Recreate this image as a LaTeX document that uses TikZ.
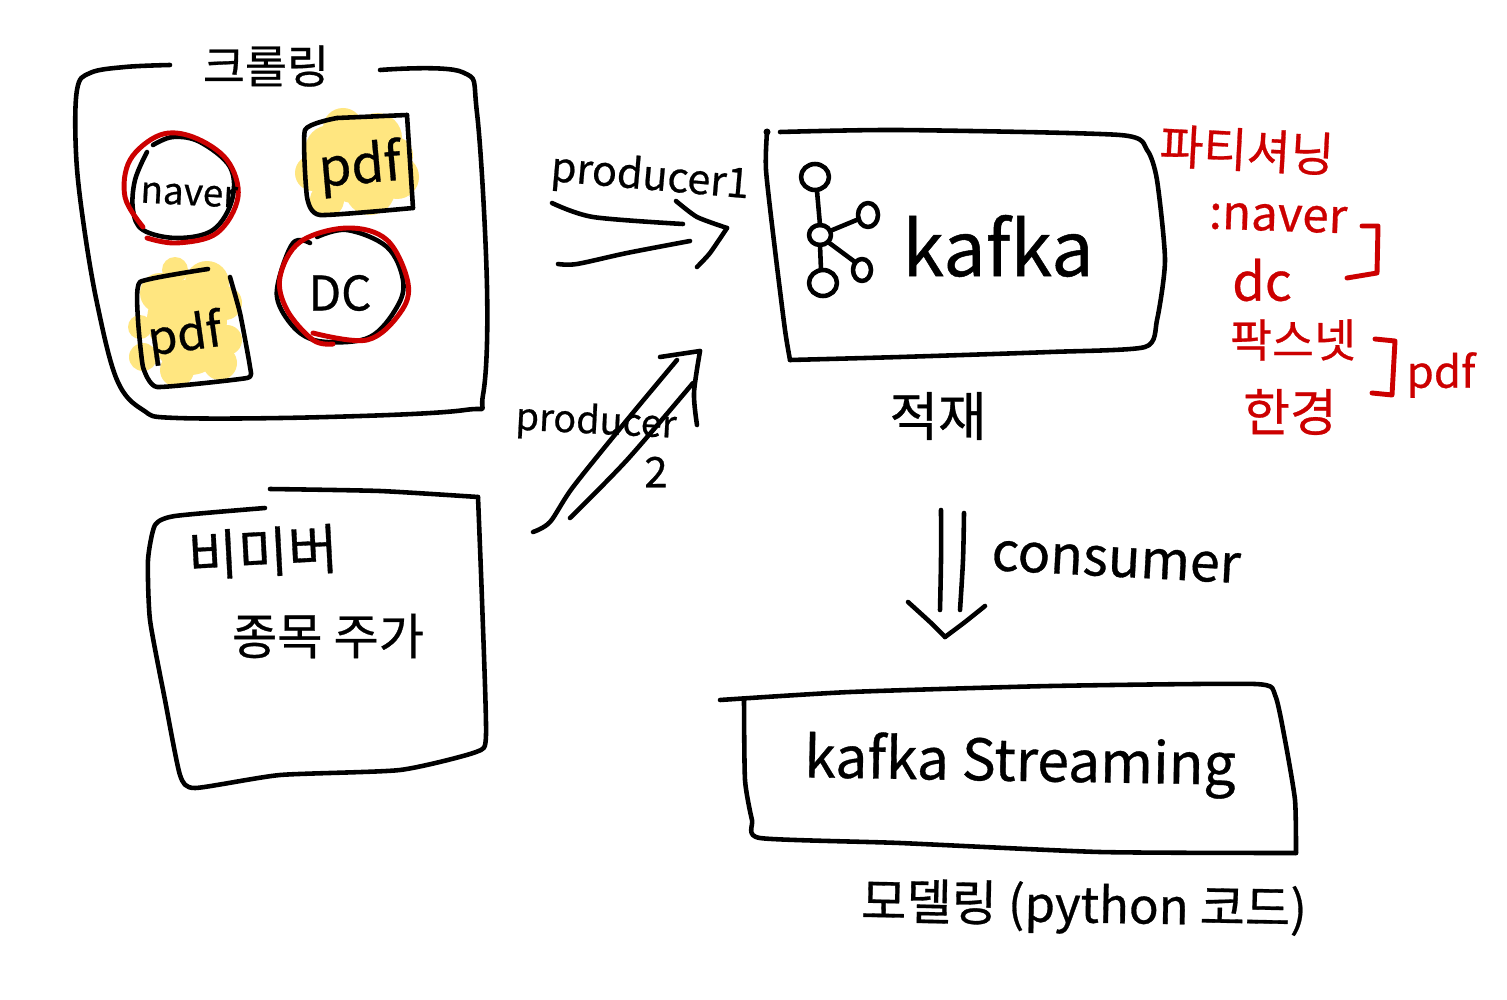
\documentclass[tikz,border=0pt]{standalone}
\usepackage{fontspec}
\setmainfont{Noto Sans CJK KR}[FakeBold=0.6]
\definecolor{inkred}{HTML}{CC0000}
\definecolor{marker}{HTML}{FFE680}
\tikzset{
  ink/.style={line width=2.6pt,line cap=round,line join=round,black},
  redink/.style={line width=2.8pt,line cap=round,line join=round,inkred},
  hw/.style={inner sep=0pt,anchor=center,black},
  hwred/.style={inner sep=0pt,anchor=center,inkred},
  blob/.style={fill=marker,draw=none},
}
\newcommand{\fs}[1]{\fontsize{#1pt}{#1pt}\selectfont}
\begin{document}
\begin{tikzpicture}[x=0.02cm,y=-0.02cm]
\useasboundingbox (0,0) rectangle (1507,1000);
\fill[white] (0,0) rectangle (1507,1000);
% yellow highlights
\foreach \a/\b/\r in {343/128/20,330/150/25,377/138/25,397/177/22,313/173/18,327/200/17,370/190/25,355/165/38,395/155/18}
  \fill[blob] (\a,\b) circle[radius=\r*0.02cm];
\foreach \a/\b/\r in {175/270/13,160/293/20,207/283/22,225/303/17,140/327/12,143/357/14,220/363/17,177/370/17,187/320/40,227/340/15,190/340/35}
  \fill[blob] (\a,\b) circle[radius=\r*0.02cm];
% crawling box
\draw[ink] plot[smooth,tension=.6] coordinates {(170,65)(125,67)(90,73)(77,90)(76,153)(83,220)(97,303)(117,380)(143,410)(177,418)(327,417)(465,410)(483,395)(487,287)(477,113)(462,72)(380,70)};
% naver circle
\draw[ink] plot[smooth,tension=.6] coordinates {(147,152)(135,180)(133,210)(143,230)(177,238)(213,230)(232,200)(230,167)(200,142)(173,137)(153,145)};
\draw[redink] plot[smooth,tension=.6] coordinates {(147,238)(177,243)(217,233)(238,197)(227,160)(193,137)(160,135)(130,160)(125,197)(143,227)};
% top pdf box
\draw[ink] plot[smooth,tension=.2] coordinates {(337,118)(407,115)};
\draw[ink] plot[smooth,tension=.2] coordinates {(407,115)(413,208)};
\draw[ink] plot[smooth,tension=.3] coordinates {(413,208)(320,215)(307,197)(305,130)(337,118)};
% bottom pdf box
\draw[ink] plot[smooth,tension=.25] coordinates {(208,269)(140,282)(138,320)(143,367)(157,387)(247,378)(250,367)(240,313)(230,277)};
% DC circle
\draw[ink] plot[smooth,tension=.6] coordinates {(310,243)(293,243)(278,283)(280,307)(300,333)(327,342)(370,337)(397,307)(403,280)(387,247)(347,230)(317,237)};
\draw[redink] plot[smooth,tension=.6] coordinates {(333,344)(313,340)(287,310)(280,277)(300,242)(347,228)(387,240)(408,283)(400,313)(367,340)(313,333)};
% labels, crawling
\node[hw] (crawl) at (266,66) {\fs{26}크롤링};
\node[hw,rotate=-3] (naverA) at (189,195) {\fs{21}naver};
\node[hw,rotate=5] (pdfA) at (360,168) {\fs{30}pdf};
\node[hw,rotate=8] (pdfB) at (185,337) {\fs{27}pdf};
\node[hw] (dcA) at (340,293) {\fs{27}DC};
% producer 1 arrow
\node[hw,rotate=-5] (prodA) at (650,178) {\fs{23.5}producer1};
\draw[ink] plot[smooth] coordinates {(552,203)(593,217)(683,224)};
\draw[ink] plot[smooth] coordinates {(558,264)(577,264)(627,253)(690,241)};
\draw[ink] plot[smooth,tension=.4] coordinates {(676,201)(697,217)(727,228)};
\draw[ink] plot[smooth,tension=.4] coordinates {(727,228)(710,253)(697,267)};
% producer 2 arrow
\draw[ink] plot[smooth] coordinates {(533,532)(550,522)(573,487)(627,420)(677,360)};
\draw[ink] plot[smooth] coordinates {(570,518)(627,460)(693,383)};
\draw[ink] (660,357) -- (700,351);
\draw[ink] plot[smooth] coordinates {(700,351)(694,393)(697,425)};
\node[hw,rotate=-3] (prodB) at (596,423) {\fs{21.5}producer};
\node[hw] (two) at (656,472) {\fs{24}2};
% kafka box
\fill[black] (767,132) circle[radius=0.07cm];
\draw[ink] plot[smooth,tension=.4] coordinates {(767,132)(766,170)(775,250)(785,330)(790,360)};
\draw[ink] plot[smooth,tension=.4] coordinates {(790,360)(900,357)(1050,352)(1145,347)(1157,320)(1165,260)(1157,180)(1147,150)(1120,135)(900,130)(780,132)};
% kafka icon
\draw[ink] (815,177) ellipse[x radius=0.28cm,y radius=0.26cm];
\draw[ink] (820,235) ellipse[x radius=0.22cm,y radius=0.20cm];
\draw[ink] (868,215) ellipse[x radius=0.20cm,y radius=0.24cm];
\draw[ink] (862,270) ellipse[x radius=0.18cm,y radius=0.22cm];
\draw[ink] (823,283) ellipse[x radius=0.28cm,y radius=0.26cm];
\draw[ink] (817,191) -- (820,225);
\draw[ink] (830,231) -- (859,219);
\draw[ink] (828,242) -- (855,262);
\draw[ink] (820,245) -- (821,270);
\node[hw] (kafka) at (998,246) {\fs{43}kafka};
\node[hw] (load) at (938,416) {\fs{30}적재};
% partition notes
\node[hwred,rotate=-3] (part) at (1247,150) {\fs{27}파티셔닝};
\node[hwred,rotate=-2] (naverB) at (1278,218) {\fs{27}:naver};
\node[hwred] (dcB) at (1262,280) {\fs{30}dc};
\node[hwred] (paxnet) at (1293,340) {\fs{26}팍스넷};
\node[hwred] (hankyung) at (1290,412) {\fs{29}한경};
\node[hwred] (pdfC) at (1441,375) {\fs{25}pdf};
\draw[redink] (1362,226) -- (1378,226) -- (1377,273) -- (1347,278);
\draw[redink] (1375,339) -- (1395,341) -- (1392,395) -- (1372,393);
% consumer arrow
\draw[ink] plot[smooth] coordinates {(941,510)(941,560)(940,610)};
\draw[ink] plot[smooth] coordinates {(964,513)(963,560)(960,610)};
\draw[ink] plot[smooth,tension=.3] coordinates {(908,602)(930,622)(945,637)};
\draw[ink] plot[smooth,tension=.3] coordinates {(945,637)(965,622)(985,606)};
\node[hw,rotate=-3] (consumer) at (1116,562) {\fs{30.5}consumer};
% streaming box
\draw[ink] plot[smooth,tension=.35] coordinates {(720,700)(850,692)(1050,686)(1255,684)(1275,695)(1285,740)(1295,800)(1296,853)};
\draw[ink] plot[smooth,tension=.35] coordinates {(1296,853)(1100,852)(900,843)(760,838)(752,820)(745,780)(744,700)};
\node[hw,rotate=-1] (stream) at (1020,765) {\fs{32.5}kafka Streaming};
\node[hw,rotate=-1] (model) at (1084,908) {\fs{28}모델링 (python 코드)};
% stock box
\draw[ink] plot[smooth,tension=.35] coordinates {(270,489)(380,491)(478,497)};
\draw[ink] plot[smooth,tension=.35] coordinates {(478,497)(482,600)(486,735)(476,752)(400,770)(280,775)(195,788)(180,775)(165,700)(150,620)(148,560)(155,525)(175,516)(265,508)};
\node[hw,rotate=3] (bimi) at (263,552) {\fs{31}비미버};
\node[hw] (stock) at (328,636) {\fs{28}종목 주가};
\end{tikzpicture}
\end{document}
